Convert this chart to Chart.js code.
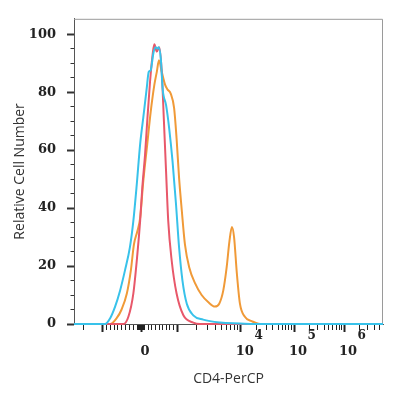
<!DOCTYPE html>
<html><head><meta charset="utf-8">
<script src="https://cdn.jsdelivr.net/npm/chart.js@4/dist/chart.umd.min.js"></script>
<style>html,body{margin:0;padding:0;background:#fff}#c{display:block}</style>
</head><body>
<canvas id="c" width="400" height="400"></canvas>
<script>
// Histogram data (x = display channel 0..1000 on the biexponential axis, y = relative cell number)
const cyanChannels = [0,100,117,133,149,165,181,192,203,214,224,235,242,248,257,264,270,274,281,287,298,308,319,330,340,351,365,386,418,473,537,586,1000];
const cyanValues   = [0,0,2,6,11.5,18.5,26.5,35.5,48,62,71,81,87,87.5,93.5,95.5,95,95.5,91.5,81,75.5,67.5,56,41.5,26.5,15,7,3,1.5,0.5,0.2,0,0];

const redChannels = [0,160,176,192,205,214,221,230,237,246,255,260,268,276,284,291,298,305,316,332,354,386,408,1000];
const redValues   = [0,0,2.5,10.5,24,35.5,47,58.5,70,83.5,93.5,96.5,94,95.5,87,70,52.5,35.5,22,10.5,3,0.5,0,0];

const orangeChannels = [0,117,138,154,171,184,194,205,214,224,237,248,260,268,275,284,295,302,313,324,332,340,349,359,373,392,413,435,456,470,483,494,503,511,518,527,537,553,575,602,1000];
const orangeValues   = [0,0,2,5,10.5,18.5,27.5,32,36.5,49,62,73,82.5,87,91,87,82.5,81,79.5,74.5,64,50.5,39,27.5,19.5,14,10,7.5,6,7,11.5,19.5,28.5,33.5,30,17.5,7,2.5,1,0,0];

// Axis ticks
const yTickValues = [0,5,10,15,20,25,30,35,40,45,50,55,60,65,70,75,80,85,90,95,100];
const yLabelStep = 20;
const xMajorChannels  = [92, 217, 334, 540, 712, 874];   // -10^3, 0, 10^3, 10^4, 10^5, 10^6
const xMajorLabels    = ['', '0', '', '10', '10', '10'];
const xMajorExponents = ['', '', '', '4', '5', '6'];
const xExtraMinorChannels = [30];

const cyanColor = '#38c2ea';
const redColor = '#e8586a';
const orangeColor = '#f09a38';

function buildXTicks() {
  const t = [];
  xMajorChannels.forEach((c, i) => t.push({value: c, isMajor: true, lbl: xMajorLabels[i], exp: xMajorExponents[i]}));
  const neg = xMajorChannels[0], zero = xMajorChannels[1], pos = xMajorChannels[2];
  for (let k = 1; k <= 9; k++) {
    t.push({value: zero - (zero - neg) * k / 10});
    t.push({value: zero + (pos - zero) * k / 10});
  }
  for (const f of [0.25, 0.5, 0.75]) {
    t.push({value: zero - (zero - neg) * f / 10});
    t.push({value: zero + (pos - zero) * f / 10});
  }
  for (let d = 2; d < xMajorChannels.length; d++) {
    const a = xMajorChannels[d];
    const b = d + 1 < xMajorChannels.length ? xMajorChannels[d + 1] : a + (a - xMajorChannels[d - 1]);
    for (let j = 2; j <= 9; j++) {
      const v = a + (b - a) * Math.log10(j);
      if (v < 998) t.push({value: v});
    }
  }
  xExtraMinorChannels.forEach(c => t.push({value: c}));
  t.forEach(o => { if (!o.lbl) o.lbl = ''; });
  return t.sort((p, q) => p.value - q.value);
}

function series(ch, vals) { return ch.map((c, i) => ({x: c, y: vals[i]})); }

const framePlugin = {
  id: 'frame',
  beforeDatasetsDraw(chart) {
    const {ctx, chartArea: a} = chart;
    ctx.save();
    ctx.strokeStyle = '#9a9a9a';
    ctx.lineWidth = 1;
    ctx.beginPath();
    ctx.moveTo(a.left, a.top + 0.5);
    ctx.lineTo(a.right - 0.5, a.top + 0.5);
    ctx.lineTo(a.right - 0.5, a.bottom);
    ctx.stroke();
    ctx.restore();
  }
};

const expPlugin = {
  id: 'exponents',
  afterDraw(chart) {
    const xs = chart.scales.x;
    const ctx = chart.ctx;
    ctx.save();
    ctx.fillStyle = '#222';
    ctx.textBaseline = 'middle';
    ctx.textAlign = 'left';
    xs.ticks.forEach(t => {
      if (!t.exp) return;
      const px = xs.getPixelForValue(t.value) + 4;
      ctx.font = 'bold 13px "DejaVu Serif"';
      const w = ctx.measureText(t.lbl).width;
      ctx.font = 'bold 12px "DejaVu Serif"';
      ctx.fillText(t.exp, px + w / 2 + 0.5, 336);
    });
    ctx.restore();
  }
};

new Chart(document.getElementById('c'), {
  type: 'line',
  data: {
    datasets: [
      {label: 'Cyan', data: series(cyanChannels, cyanValues), borderColor: cyanColor},
      {label: 'Red', data: series(redChannels, redValues), borderColor: redColor},
      {label: 'Orange', data: series(orangeChannels, orangeValues), borderColor: orangeColor}
    ]
  },
  options: {
    responsive: false,
    animation: false,
    devicePixelRatio: 1,
    layout: {padding: {top: 16, right: 17, left: 0, bottom: 0}},
    plugins: {legend: {display: false}, tooltip: {enabled: false}},
    elements: {
      point: {radius: 0},
      line: {borderWidth: 2, cubicInterpolationMode: 'monotone', fill: false}
    },
    datasets: {line: {clip: 4}},
    scales: {
      x: {
        type: 'linear', min: 0, max: 1000,
        afterFit(s) { s.height = 76; },
        afterBuildTicks(s) { s.ticks = buildXTicks(); },
        ticks: {
          autoSkip: false, maxRotation: 0, minRotation: 0, labelOffset: 4, padding: 12,
          font: {family: 'DejaVu Serif', weight: 'bold', size: 13}, color: '#222',
          callback(v, i, t) { return t[i].lbl; }
        },
        grid: {
          drawOnChartArea: false, tickLength: 8, tickColor: '#222',
          tickWidth: c => (c.tick && c.tick.isMajor) ? 2 : 1,
          tickBorderDash: c => (c.tick && c.tick.isMajor) ? [] : [5, 100]
        },
        border: {color: '#555', width: 1},
        title: {display: true, text: 'CD4-PerCP', font: {family: 'Open Sans', size: 14}, color: '#333', padding: {top: 0, bottom: 13}}
      },
      y: {
        type: 'linear', min: 0, max: 105.3,
        afterFit(s) { s.width = 74; },
        afterBuildTicks(s) { s.ticks = yTickValues.map(v => ({value: v})); },
        ticks: {
          autoSkip: false, padding: 11,
          font: {family: 'DejaVu Serif', weight: 'bold', size: 13}, color: '#222',
          callback(v) { return v % yLabelStep === 0 ? String(v) : ''; }
        },
        grid: {
          drawOnChartArea: false, tickLength: 7, tickColor: '#333',
          tickWidth: c => (c.tick && c.tick.value % yLabelStep === 0) ? 2 : 1,
          tickBorderDash: c => (c.tick && c.tick.value % yLabelStep === 0) ? [] : [3.5, 3.5],
          tickBorderDashOffset: c => (c.tick && c.tick.value % yLabelStep === 0) ? 0 : 3.5
        },
        border: {color: '#555', width: 1},
        title: {display: true, text: 'Relative Cell Number', font: {family: 'Open Sans', size: 14}, color: '#333', padding: {top: 12, bottom: 0}}
      }
    }
  },
  plugins: [framePlugin, expPlugin]
});
</script>
</body></html>
